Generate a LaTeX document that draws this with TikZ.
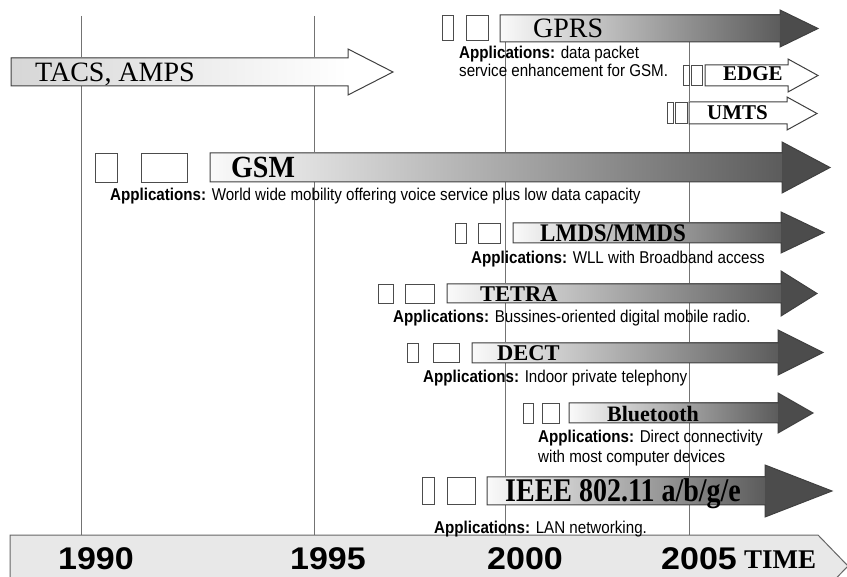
\documentclass[tikz,border=0pt]{standalone}
\usepackage{fontspec}
\setmainfont{Liberation Serif}
\newfontfamily\arialf{Liberation Sans}
\newcommand\fsz[1]{\fontsize{#1}{#1}\selectfont}
\newcommand\appl{\textbf{Applications:} }
\newcommand\apptxt[1]{\scalebox{1.01}[1.14]{#1}}
\newcommand\techarrow[8]{%
  \shade[#8 body] (#1,#3) rectangle (#2,#4);
  \fill[#8 head] (#2,#5) -- (#7,{(#5+#6)/2}) -- (#2,#6) -- cycle;
  \draw[arrowline] (#1,#3) -- (#2,#3) -- (#2,#5) -- (#7,{(#5+#6)/2}) -- (#2,#6) -- (#2,#4) -- (#1,#4) -- cycle;}
\tikzset{
  vline/.style={draw=black!55, line width=1},
  smallbox/.style={draw=black!70, fill=white, line width=0.9},
  arrowline/.style={draw=black!75, line width=1, line join=miter},
  dark body/.style={left color=black!2, middle color=black!26, right color=black!64},
  dark head/.style={fill=black!70},
  tacs body/.style={left color=black!16, right color=white},
  tacs head/.style={fill=white},
  plain body/.style={left color=white, right color=white},
  plain head/.style={fill=white},
  tech/.style={anchor=base west, inner sep=0, font=\bfseries},
  app/.style={anchor=base west, inner sep=0, font=\arialf\fsz{15}},
  year/.style={anchor=base west, inner sep=0, font=\arialf\bfseries\fsz{33}},
}
\begin{document}
\begin{tikzpicture}[x=1pt,y=-1pt]
\useasboundingbox (0,0) rectangle (847,577);
% year grid lines
\draw[vline] (81,16) -- (81,535);
\draw[vline] (314,16) -- (314,535);
\draw[vline] (505,16) -- (505,535);
\draw[vline] (689,16) -- (689,535);

% time bar
\draw[fill=black!9, draw=black!60, line width=1] (10,535) -- (818,535) -- (848,566) -- (818,597) -- (10,597) -- cycle;
\node[year] (y1990) at (58,569) {\scalebox{1.03}[0.95]{1990}};
\node[year] (y1995) at (290,569) {\scalebox{1.03}[0.95]{1995}};
\node[year] (y2000) at (487,569) {\scalebox{1.03}[0.95]{2000}};
\node[year] (y2005) at (661,569) {\scalebox{1.03}[0.95]{2005}};
\node[anchor=base west, inner sep=0, font=\bfseries\fsz{27}] (time) at (744,568) {TIME};

% TACS, AMPS
\techarrow{11}{348}{58}{86}{49}{95}{393}{tacs}
\node[anchor=base west, inner sep=0, font=\fsz{28}] (tacs) at (35,82) {TACS, AMPS};

% GPRS
\draw[smallbox] (442,15) rectangle (453,40);
\draw[smallbox] (466,15) rectangle (488,40);
\techarrow{500}{780}{15}{42}{10}{47}{818}{dark}
\node[anchor=base west, inner sep=0, font=\fsz{28}] (gprs) at (533,38) {GPRS};
\node[app] (appgprs1) at (459,59) {\apptxt{\appl data packet}};
\node[app] (appgprs2) at (459,77) {\apptxt{service enhancement for GSM.}};

% EDGE
\draw[smallbox] (683,65) rectangle (689,85);
\draw[smallbox] (691,65) rectangle (702,85);
\techarrow{705}{788}{65}{86}{59}{92}{818}{plain}
\node[tech, font=\bfseries\fsz{21}] (edge) at (723,81) {EDGE};

% UMTS
\draw[smallbox] (667,102) rectangle (673,123);
\draw[smallbox] (675,102) rectangle (687,123);
\techarrow{689}{787}{102}{124}{97}{130}{817}{plain}
\node[tech, font=\bfseries\fsz{21}] (umts) at (707,120) {UMTS};

% GSM
\draw[smallbox] (95,153) rectangle (117,182);
\draw[smallbox] (141,153) rectangle (187,182);
\techarrow{210}{782}{153}{182}{142}{193}{830}{dark}
\node[tech, font=\bfseries\fsz{28}] (gsm) at (231,178) {\scalebox{1}[1.1]{GSM}};
\node[app] (appgsm) at (110,201) {\apptxt{\appl World wide mobility offering voice service plus low data capacity}};

% LMDS/MMDS
\draw[smallbox] (455,223) rectangle (466,243);
\draw[smallbox] (478,223) rectangle (500,243);
\techarrow{513}{781}{223}{243}{212}{253}{824}{dark}
\node[tech, font=\bfseries\fsz{23}] (lmds) at (540,242) {\scalebox{1}[1.1]{LMDS/MMDS}};
\node[app] (applmds) at (471,264) {\apptxt{\appl WLL with Broadband access}};

% TETRA
\draw[smallbox] (378,284) rectangle (393,303);
\draw[smallbox] (405,284) rectangle (434,303);
\techarrow{447}{781}{284}{303}{271}{316}{817}{dark}
\node[tech, font=\bfseries\fsz{22.5}] (tetra) at (480,302) {TETRA};
\node[app] (apptetra) at (393,323) {\apptxt{\appl Bussines-oriented digital mobile radio.}};

% DECT
\draw[smallbox] (407,343) rectangle (418,362);
\draw[smallbox] (433,343) rectangle (459,362);
\techarrow{472}{778}{343}{363}{330}{375}{823}{dark}
\node[tech, font=\bfseries\fsz{22.5}] (dect) at (497,361) {DECT};
\node[app] (appdect) at (423,383) {\apptxt{\appl Indoor private telephony}};

% Bluetooth
\draw[smallbox] (523,403) rectangle (533,423);
\draw[smallbox] (542,403) rectangle (559,423);
\techarrow{569}{778}{403}{423}{393}{433}{813}{dark}
\node[tech, font=\bfseries\fsz{22}] (bluetooth) at (607,422) {Bluetooth};
\node[app] (appbt1) at (538,443) {\apptxt{\appl Direct connectivity}};
\node[app] (appbt2) at (538,463) {\apptxt{with most computer devices}};

% IEEE 802.11
\draw[smallbox] (422,477) rectangle (434,504);
\draw[smallbox] (447,477) rectangle (475,504);
\techarrow{487}{765}{477}{505}{465}{517}{832}{dark}
\node[tech, font=\bfseries\fsz{28}] (ieee) at (505,502) {\scalebox{1}[1.18]{IEEE 802.11 a/b/g/e}};
\node[app] (appieee) at (434,533) {\apptxt{\appl LAN networking.}};
\end{tikzpicture}
\end{document}
